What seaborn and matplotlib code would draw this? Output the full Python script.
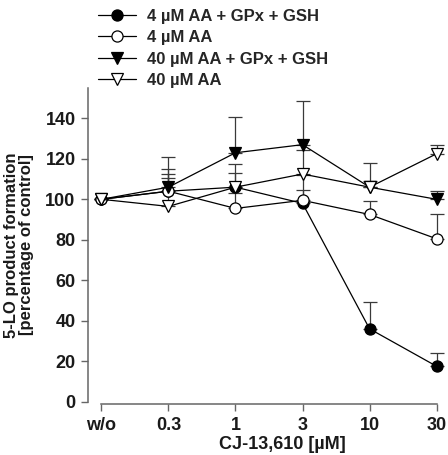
import numpy as np
import matplotlib
matplotlib.use('Agg')
import matplotlib.pyplot as plt
import seaborn as sns
import pandas as pd

# Data
doses = ['w/o', '0.3', '1', '3', '10', '30']
series_names = ['4 µM AA + GPx + GSH', '4 µM AA', '40 µM AA + GPx + GSH', '40 µM AA']

aa4_gpx = [100, 104, 106, 98, 36, 17.5]
aa4_gpx_err = [0, 11, 11.5, 14, 13.5, 6.5]
aa4 = [100, 104, 95.5, 99.5, 92.5, 80.5]
aa4_err = [0, 8.5, 7.5, 5, 6.5, 12]
aa40_gpx = [100, 106, 123, 127, 106, 100]
aa40_gpx_err = [0, 15, 17.5, 21.5, 12, 4]
aa40 = [100, 96.5, 106, 112.5, 106, 122.5]
aa40_err = [0, 14, 7, 12, 3, 4.5]

values = [aa4_gpx, aa4, aa40_gpx, aa40]
errors = [aa4_gpx_err, aa4_err, aa40_gpx_err, aa40_err]
markers = ['o', 'o', 'v', 'v']
faces = ['black', 'white', 'black', 'white']

sns.set_theme(style='ticks')
plt.rcParams['font.family'] = ['Liberation Sans', 'DejaVu Sans']
plt.rcParams['font.weight'] = 'bold'

fig = plt.figure(figsize=(4.48, 4.55), dpi=100)
ax = fig.add_axes([88 / 448, (455 - 401.7) / 455, 1 - 88 / 448, (401.7 - 88) / 455])

pos = np.arange(len(doses))
handles = []
for name, y, e, m, fc in zip(series_names, values, errors, markers, faces):
    df = pd.DataFrame({'pos': pos, 'val': y})
    ax.errorbar(df['pos'], df['val'], yerr=[np.zeros(len(e)), e], fmt='none',
                ecolor='#3a3a3a', elinewidth=0.9, capsize=5, capthick=0.9, zorder=2)
    sns.lineplot(data=df, x='pos', y='val', ax=ax, color='black', linewidth=0.9,
                 marker=m, markersize=8, markerfacecolor=fc, markeredgecolor='black',
                 markeredgewidth=0.9, zorder=3)
    h, = ax.plot([], [], color='black', linewidth=0.9, marker=m, markersize=8,
                 markerfacecolor=fc, markeredgecolor='black', markeredgewidth=0.9)
    handles.append(h)

ax.set_xlim(-0.2, 5.17)
ax.set_ylim(0, 155)
ax.set_xticks(pos)
ax.set_xticklabels(doses)
ax.set_yticks(np.arange(0, 141, 20))
ax.tick_params(axis='both', labelsize=13, length=5, width=1, colors='#666666',
               labelcolor='#1a1a1a', pad=4)
for lab in ax.get_xticklabels() + ax.get_yticklabels():
    lab.set_fontweight('bold')

sns.despine(ax=ax)
ax.spines['bottom'].set_bounds(0, 5)
ax.spines['bottom'].set_position(('outward', 2))
for s in ['left', 'bottom']:
    ax.spines[s].set_color('#666666')
    ax.spines[s].set_linewidth(1.1)

ax.set_xlabel('CJ-13,610 [µM]', fontsize=13, fontweight='bold', color='#1a1a1a')
ax.xaxis.set_label_coords(0.539, -0.108)
ax.set_ylabel('5-LO product formation\n[percentage of control]', fontsize=12,
              fontweight='bold', color='#1a1a1a', labelpad=8, linespacing=1.0)

fig.legend(handles, series_names, loc='upper left', bbox_to_anchor=(98 / 448, 1 - 9 / 455),
           frameon=False, handlelength=2.3, handletextpad=0.65,
           labelspacing=0.38, borderpad=0, borderaxespad=0,
           prop={'weight': 'bold', 'size': 12})

fig.savefig('out.png', dpi=100)
